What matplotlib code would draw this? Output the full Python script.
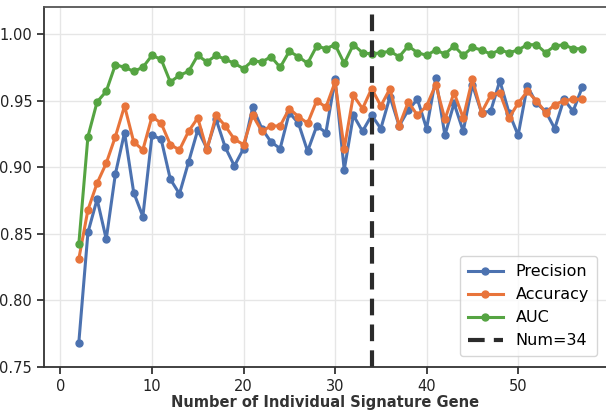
import matplotlib
matplotlib.use("Agg")
import matplotlib.pyplot as plt
import numpy as np

num_genes = list(range(2, 58))

precision = [
    0.768, 0.851, 0.876, 0.846, 0.895, 0.926, 0.881, 0.863, 0.924, 0.921,
    0.891, 0.880, 0.904, 0.928, 0.914, 0.936, 0.915, 0.901, 0.914, 0.945,
    0.929, 0.919, 0.914, 0.941, 0.933, 0.912, 0.931, 0.926, 0.966, 0.898,
    0.939, 0.927, 0.939, 0.929, 0.953, 0.931, 0.943, 0.951, 0.929, 0.967,
    0.924, 0.948, 0.927, 0.962, 0.941, 0.942, 0.965, 0.941, 0.924, 0.961,
    0.948, 0.942, 0.929, 0.951, 0.942, 0.960,
]
accuracy = [
    0.831, 0.868, 0.888, 0.903, 0.923, 0.946, 0.919, 0.913, 0.938, 0.933,
    0.917, 0.913, 0.927, 0.937, 0.913, 0.939, 0.931, 0.921, 0.917, 0.939,
    0.927, 0.931, 0.931, 0.944, 0.938, 0.933, 0.950, 0.945, 0.964, 0.914,
    0.954, 0.944, 0.959, 0.946, 0.959, 0.931, 0.949, 0.939, 0.946, 0.962,
    0.936, 0.956, 0.937, 0.966, 0.941, 0.954, 0.956, 0.937, 0.948, 0.957,
    0.950, 0.941, 0.947, 0.950, 0.951, 0.951,
]
auc = [
    0.842, 0.923, 0.949, 0.957, 0.977, 0.975, 0.972, 0.975, 0.984, 0.981,
    0.964, 0.969, 0.972, 0.984, 0.979, 0.984, 0.981, 0.978, 0.974, 0.980,
    0.979, 0.983, 0.975, 0.987, 0.983, 0.978, 0.991, 0.989, 0.992, 0.978,
    0.992, 0.986, 0.985, 0.986, 0.987, 0.983, 0.991, 0.986, 0.984, 0.988,
    0.985, 0.991, 0.984, 0.990, 0.988, 0.985, 0.988, 0.986, 0.988, 0.992,
    0.992, 0.986, 0.991, 0.992, 0.989, 0.989,
]
best_num = 34

fig = plt.figure(figsize=(6.06, 4.19), dpi=100)
ax = fig.add_axes([44 / 606, 52 / 419, 562 / 606, 360 / 419])

ax.plot(num_genes, precision, "-o", color="#4C72B0", lw=2.2, ms=5, label="Precision")
ax.plot(num_genes, accuracy, "-o", color="#E8743B", lw=2.2, ms=5, label="Accuracy")
ax.plot(num_genes, auc, "-o", color="#55A442", lw=2.2, ms=5, label="AUC")
ax.axvline(best_num, color="#2b2b2b", ls="--", lw=3, dashes=(4, 2.2), label=f"Num={best_num}")

ax.set_xlim(-1.8, 59.6)
ax.set_ylim(0.75, 1.0203)
ax.set_xticks([0, 10, 20, 30, 40, 50])
ax.set_yticks([0.75, 0.80, 0.85, 0.90, 0.95, 1.00])
ax.set_yticklabels(["0.75", "0.80", "0.85", "0.90", "0.95", "1.00"])
ax.grid(True, color="#e6e6e6", lw=1)
ax.set_axisbelow(True)
ax.tick_params(labelsize=10.5, colors="#222222", length=5, width=1.2, direction="out")

for side in ["left", "bottom", "top"]:
    ax.spines[side].set_color("#333333")
    ax.spines[side].set_linewidth(1.3)
ax.spines["top"].set_color("#555555")
ax.spines["right"].set_visible(False)

ax.set_xlabel("Number of Individual Signature Gene", fontsize=10.5, fontweight="bold",
              family=["Liberation Sans Narrow", "DejaVu Sans"], color="#333333", labelpad=1)

leg = ax.legend(loc="lower right", fontsize=11.5, frameon=True, fancybox=True,
                handlelength=2.2, borderpad=0.5, labelspacing=0.5,
                bbox_to_anchor=(0.998, 0.008))
leg.get_frame().set_edgecolor("#cccccc")

fig.savefig("out.png", dpi=100)
